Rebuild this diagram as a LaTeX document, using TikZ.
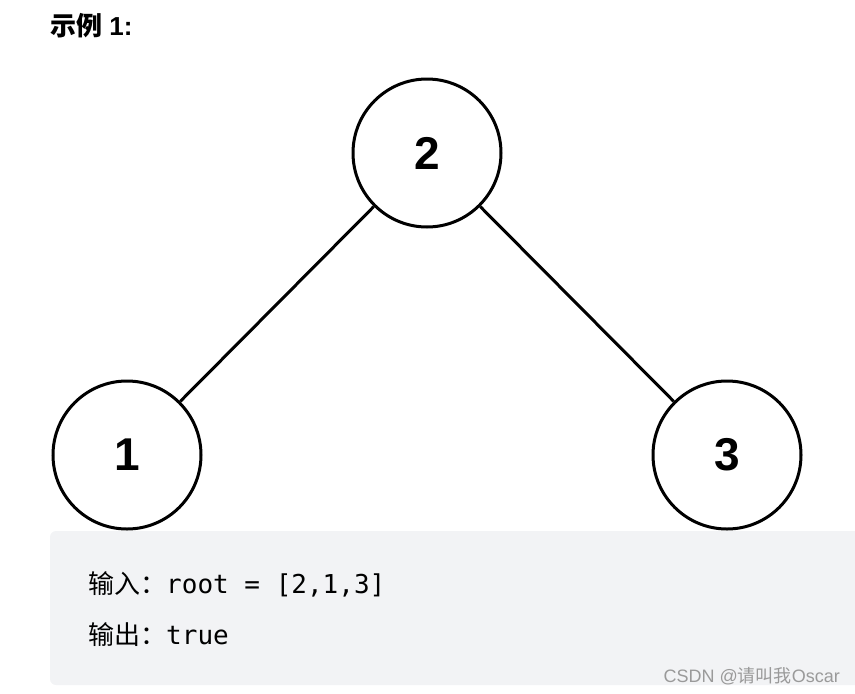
\documentclass[tikz,border=0pt]{standalone}
\usepackage{fontspec}
\setmainfont{Liberation Sans}
\setmonofont{DejaVu Sans Mono}
\newfontfamily\cjk{Noto Sans CJK SC}
\usetikzlibrary{positioning}
\definecolor{codebg}{HTML}{F2F3F5}
\definecolor{markgray}{HTML}{9A9A9A}
\tikzset{
  treenode/.style={circle,draw,line width=3pt,minimum size=148pt,inner sep=0pt,
    font=\fontsize{46}{46}\selectfont\bfseries},
  edge/.style={line width=3pt},
  codeline/.style={anchor=base west,inner sep=0pt,font=\fontsize{26}{26}\selectfont}
}
\begin{document}
\begin{tikzpicture}[x=1pt,y=-1pt]
\useasboundingbox (0,0) rectangle (855,694);
\node[anchor=base west,inner sep=0pt,font=\fontsize{26}{26}\selectfont\bfseries] (title) at (50,35) {{\cjk\bfseries 示例} 1:};
\fill[codebg,rounded corners=6pt] (50,531) rectangle (870,685);
\node[treenode] (n2) at (427,153) {2};
\node[treenode] (n1) at (127,455) {1};
\node[treenode] (n3) at (727,455) {3};
\draw[edge] (n2) -- (n1);
\draw[edge] (n2) -- (n3);
\node[codeline] (in) at (88,593) {{\cjk 输入：}\ttfamily root = [2,1,3]};
\node[codeline] (out) at (88,644) {{\cjk 输出：}\ttfamily true};
\node[anchor=base east,inner sep=0pt,text=markgray,font=\fontsize{18}{18}\selectfont] (mark) at (840,682) {CSDN @{\cjk 请叫我}Oscar};
\end{tikzpicture}
\end{document}
